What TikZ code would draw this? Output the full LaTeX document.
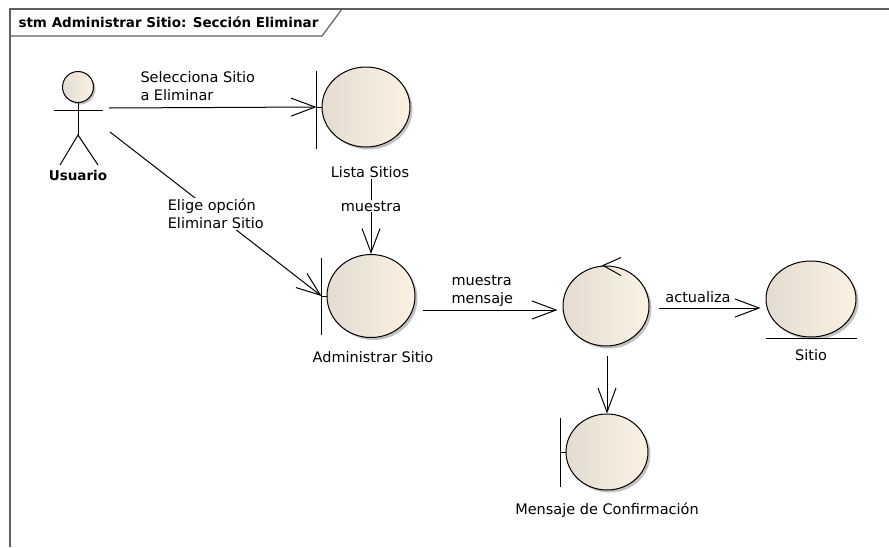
\documentclass[tikz,border=0pt]{standalone}
\usepackage{fontspec}
\setmainfont{DejaVu Sans}
\usepackage{tikz}
\usetikzlibrary{
  arrows.meta,      % open barbed arrow tips
  shapes.geometric, % ellipse nodes
  shadows           % drop shadow of the objects
}

\definecolor{objleft}{RGB}{228,220,209}
\definecolor{objright}{RGB}{251,242,228}
\definecolor{framegray}{RGB}{95,95,95}

\begin{document}
\begin{tikzpicture}[x=1pt, y=-1pt, line width=1pt,
    flow/.style={-{Straight Barb[length=24pt,width=18pt]}},
    obj/.style={ellipse, draw, minimum width=88pt, minimum height=80pt, inner sep=0pt,
      left color=objleft, right color=objright,
      drop shadow={shadow xshift=2.5pt, shadow yshift=-2.5pt, fill=black!40, opacity=.6}},
    lbl/.style={font=\fontsize{14.5}{18}\selectfont, align=left, inner sep=1pt}]

    \useasboundingbox (0,0) rectangle (889,547);

    % Diagram frame and title tab
    \draw[framegray, line width=1.2pt] (10,547) -- (10,9) -- (889,9);
    \draw[framegray, line width=1.2pt] (10,36) -- (322,36) -- (342,9);
    \node[anchor=west, inner sep=0pt, font=\bfseries\fontsize{13.5}{16}\selectfont] (titulo) at (18,22) {stm Administrar Sitio: Sección Eliminar};

    % Actor
    \node[circle, draw, minimum size=31pt, inner sep=0pt, left color=objleft, right color=objright,
      drop shadow={shadow xshift=2pt, shadow yshift=-2pt, fill=black!40, opacity=.6}] (cabeza) at (78,87) {};
    \draw (cabeza.south) -- (78,135) coordinate (cadera);
    \draw (54,110) -- (103,110);
    \draw (60,165) -- (cadera) -- (98,165);
    \node[lbl, font=\bfseries\fontsize{13.5}{16}\selectfont] (usuario) at (78,175) {Usuario};

    % Objects
    \node[obj] (lista) at (366,107) {};
    \node[obj, minimum height=83pt] (admin) at (371,296) {};
    \node[obj, minimum width=86pt] (ctrl) at (606,306) {};
    \node[obj, minimum width=90pt, minimum height=76pt] (sitio) at (811,299) {};
    \node[obj, minimum width=82pt, minimum height=76pt] (mensaje) at (607,452) {};

    % Boundary bars
    \coordinate (listabar) at ([xshift=-5pt]lista.west);
    \coordinate (adminbar) at ([xshift=-5pt]admin.west);
    \coordinate (mensajebar) at ([xshift=-5pt]mensaje.west);
    \draw (lista.west) -- (listabar) ++(0,-36) -- ++(0,78);
    \draw (admin.west) -- (adminbar) ++(0,-38) -- ++(0,77);
    \draw (mensaje.west) -- (mensajebar) ++(0,-34) -- ++(0,69);

    % Entity underline
    \draw ([shift={(-45,1)}]sitio.south) -- ([shift={(46,1)}]sitio.south);

    % Control arrow head
    \draw ([shift={(15,-8)}]ctrl.north) -- ([xshift=-3pt]ctrl.north) -- ([shift={(15,10)}]ctrl.north);

    % Names
    \node[lbl] (listalbl) at (370,172) {Lista Sitios};
    \node[lbl] (adminlbl) at (373,357) {Administrar Sitio};
    \node[lbl] (sitiolbl) at (811,355) {Sitio};
    \node[lbl] (mensajelbl) at (607,510) {Mensaje de Confirmación};

    % Messages
    \coordinate (actA) at (109,108);
    \coordinate (actB) at (110,132);
    \draw[flow] (actA) -- (listabar);
    \node[lbl, anchor=west] (lblsel) at (139,86) {Selecciona Sitio\\a Eliminar};

    \draw[flow] (actB) -- node[lbl, fill=white] (lblelige) {Elige opción\\Eliminar Sitio} (adminbar);

    \draw[flow] (listalbl.south -| admin.north) -- node[lbl, fill=white, pos=0.36] (lblmuestra) {muestra} (admin.north);

    \draw[flow] ([shift={(7,14)}]admin.east) -- ([shift={(-5,4)}]ctrl.west);
    \node[lbl, anchor=west] (lblmensaje) at (450,291) {muestra\\mensaje};

    \draw[flow] ([shift={(9,2)}]ctrl.east) -- ([shift={(-5,9)}]sitio.west);
    \node[lbl] (lblact) at (698,297) {actualiza};

    \draw[flow] ([shift={(1,9)}]ctrl.south) -- (mensaje.north);
\end{tikzpicture}
\end{document}
